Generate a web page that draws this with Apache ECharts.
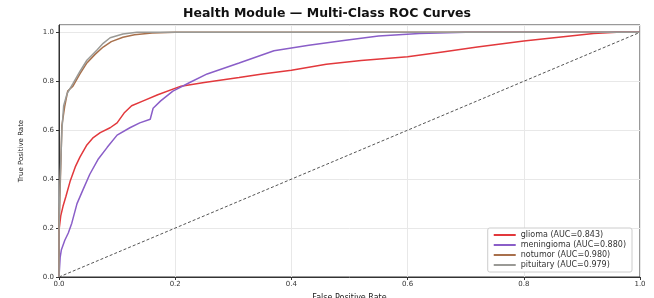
<!DOCTYPE html>
<html>
<head>
<meta charset="utf-8">
<script src="https://cdn.jsdelivr.net/npm/echarts@6/dist/echarts.min.js"></script>
<style>
  html, body { margin: 0; padding: 0; background: #fff; }
  #main { width: 654px; height: 298px; }
</style>
</head>
<body>
<div id="main"></div>
<script>
// ROC points (fpr / tpr pairs)
var gliomaFpr = [0, 0, 0.003, 0.007, 0.012, 0.019, 0.028, 0.036, 0.048, 0.059, 0.071, 0.088, 0.1, 0.112, 0.125, 0.145, 0.17, 0.21, 0.25, 0.31, 0.35, 0.40, 0.46, 0.52, 0.60, 0.66, 0.72, 0.80, 0.86, 0.92, 0.96, 1.0];
var gliomaTpr = [0, 0.19, 0.25, 0.29, 0.33, 0.39, 0.45, 0.49, 0.54, 0.57, 0.59, 0.61, 0.63, 0.67, 0.70, 0.72, 0.745, 0.78, 0.795, 0.815, 0.83, 0.845, 0.87, 0.885, 0.90, 0.92, 0.94, 0.965, 0.98, 0.995, 1.0, 1.0];

var meningiomaFpr = [0, 0.002, 0.004, 0.01, 0.016, 0.022, 0.031, 0.041, 0.053, 0.067, 0.083, 0.1, 0.122, 0.139, 0.157, 0.162, 0.175, 0.196, 0.225, 0.255, 0.31, 0.37, 0.43, 0.49, 0.55, 0.62, 0.70, 1.0];
var meningiomaTpr = [0, 0.08, 0.11, 0.15, 0.18, 0.22, 0.30, 0.355, 0.42, 0.48, 0.53, 0.58, 0.61, 0.63, 0.645, 0.69, 0.72, 0.76, 0.795, 0.83, 0.875, 0.925, 0.947, 0.967, 0.985, 0.995, 1.0, 1.0];

var notumorFpr = [0, 0, 0.003, 0.005, 0.01, 0.015, 0.024, 0.036, 0.048, 0.062, 0.076, 0.09, 0.11, 0.13, 0.16, 0.2, 1.0];
var notumorTpr = [0, 0.2, 0.45, 0.62, 0.70, 0.76, 0.78, 0.83, 0.875, 0.91, 0.94, 0.962, 0.98, 0.99, 0.997, 1.0, 1.0];

var pituitaryFpr = [0, 0, 0.002, 0.005, 0.008, 0.014, 0.024, 0.036, 0.048, 0.065, 0.076, 0.088, 0.11, 0.134, 1.0];
var pituitaryTpr = [0, 0.18, 0.4, 0.6, 0.7, 0.75, 0.79, 0.84, 0.886, 0.927, 0.955, 0.978, 0.993, 1.0, 1.0];

var classNames = ['glioma (AUC=0.843)', 'meningioma (AUC=0.880)', 'notumor (AUC=0.980)', 'pituitary (AUC=0.979)'];
var classColors = ['#e2383c', '#8a5ec8', '#a8704c', '#9a9a96'];

var chanceFpr = [0, 1];
var chanceTpr = [0, 1];

function pairs(xs, ys) {
  return xs.map(function (x, i) { return [x, ys[i]]; });
}

var chart = echarts.init(document.getElementById('main'));

var curves = [
  pairs(gliomaFpr, gliomaTpr),
  pairs(meningiomaFpr, meningiomaTpr),
  pairs(notumorFpr, notumorTpr),
  pairs(pituitaryFpr, pituitaryTpr)
];

var series = curves.map(function (d, i) {
  return {
    name: classNames[i],
    type: 'line',
    data: d,
    symbol: 'none',
    animation: false,
    lineStyle: { color: classColors[i], width: 1.5 },
    itemStyle: { color: classColors[i] }
  };
});

series.push({
  name: 'chance',
  type: 'line',
  data: pairs(chanceFpr, chanceTpr),
  symbol: 'none',
  animation: false,
  lineStyle: { color: '#555', width: 1, type: [3, 2] },
  z: 1
});

var tickLabel = { fontFamily: 'DejaVu Sans', fontSize: 7, color: '#333' };

var option = {
  backgroundColor: '#fff',
  title: {
    text: 'Health Module \u2014 Multi-Class ROC Curves',
    left: 'center',
    top: 2,
    textStyle: { fontFamily: 'DejaVu Sans', fontSize: 12.5, fontWeight: 'bold', color: '#111' }
  },
  grid: {
    left: 59, right: 14, top: 25, bottom: 21,
    outerBoundsMode: 'none',
    show: true, borderColor: '#333', borderWidth: 1
  },
  legend: {
    data: classNames,
    orient: 'vertical',
    right: 22,
    bottom: 26,
    icon: 'rect',
    itemWidth: 22,
    itemHeight: 2,
    itemGap: 2,
    padding: [3, 6, 3, 6],
    borderColor: '#ccc',
    borderWidth: 1,
    borderRadius: 2,
    backgroundColor: '#fff',
    textStyle: { fontFamily: 'DejaVu Sans', fontSize: 8, color: '#333' }
  },
  xAxis: {
    type: 'value',
    min: 0, max: 1, interval: 0.2,
    name: 'False Positive Rate',
    nameLocation: 'middle',
    nameGap: 17,
    nameTextStyle: { fontFamily: 'DejaVu Sans', fontSize: 8, color: '#222' },
    axisLine: { show: true, onZero: false, lineStyle: { color: '#333' } },
    axisTick: { show: true, length: 3, lineStyle: { color: '#333' } },
    axisLabel: Object.assign({ margin: 4, formatter: function (v) { return v.toFixed(1); } }, tickLabel),
    splitLine: { show: true, lineStyle: { color: '#e8e8e8', width: 1 } }
  },
  yAxis: {
    type: 'value',
    min: 0, max: 1.03, interval: 0.2,
    name: 'True Positive Rate',
    nameLocation: 'middle',
    nameGap: 34,
    nameTextStyle: { fontFamily: 'DejaVu Sans', fontSize: 7, color: '#222' },
    axisLine: { show: true, onZero: false, lineStyle: { color: '#333' } },
    axisTick: { show: true, length: 3, lineStyle: { color: '#333' } },
    axisLabel: Object.assign({ margin: 5, showMaxLabel: false, formatter: function (v) { return v.toFixed(1); } }, tickLabel),
    splitLine: { show: true, lineStyle: { color: '#e8e8e8', width: 1 } }
  },
  series: series
};

chart.setOption(option);
</script>
</body>
</html>
